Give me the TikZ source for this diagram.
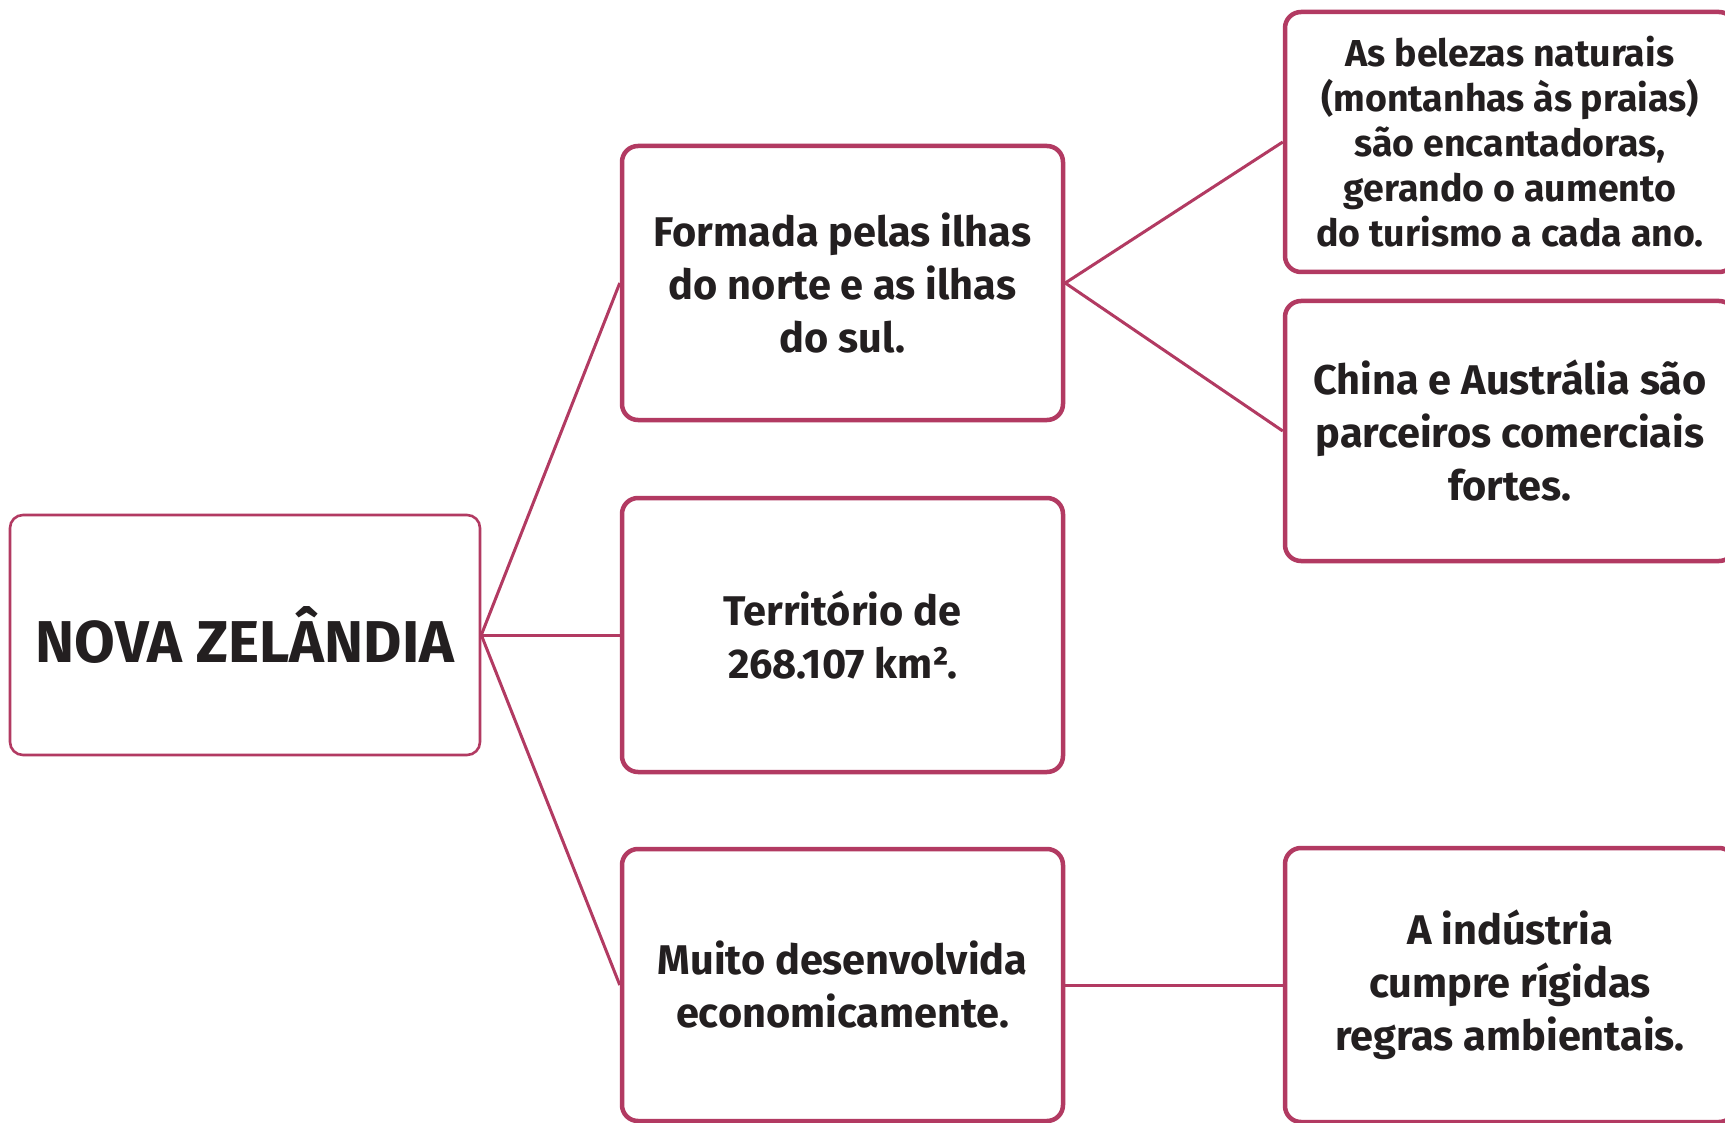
\documentclass[tikz,border=0pt]{standalone}
\usepackage{fontspec}
\setmainfont{Fira Sans}
\definecolor{bord}{RGB}{178,58,98}
\definecolor{ink}{RGB}{35,31,32}
\tikzset{
  box/.style={draw=bord, line width=4.5pt, rounded corners=16pt, rectangle, fill=white,
    inner sep=0pt, align=center, text=ink, font=\bfseries\fontsize{41.5}{53}\selectfont},
  rootbox/.style={box, line width=2.6pt, rounded corners=13pt, font=\bfseries\fontsize{59}{66}\selectfont},
  smallbox/.style={box, font=\bfseries\fontsize{37.5}{45}\selectfont},
  link/.style={draw=bord, line width=3pt}
}
\begin{document}
\begin{tikzpicture}[x=1pt,y=-1pt]
\useasboundingbox[fill=white] (0,0) rectangle (1725,1123);
\node[rootbox, minimum width=470pt, minimum height=240pt] (root) at (245,635) {NOVA ZELÂNDIA};
\node[box, minimum width=441pt, minimum height=274pt] (a) at (842.5,283) {Formada pelas ilhas\\do norte e as ilhas\\do sul.};
\node[box, minimum width=441pt, minimum height=274pt] (b) at (842.5,635) {Território de\\268.107 km².};
\node[box, minimum width=441pt, minimum height=272pt] (c) at (842.5,985) {Muito desenvolvida\\economicamente.};
\node[smallbox, minimum width=450pt, minimum height=260pt] (d) at (1510,142) {As belezas naturais\\(montanhas às praias)\\são encantadoras,\\gerando o aumento\\do turismo a cada ano.};
\node[box, minimum width=450pt, minimum height=260pt] (e) at (1510,431) {China e Austrália são\\parceiros comerciais\\fortes.};
\node[box, minimum width=450pt, minimum height=274pt] (f) at (1510,985) {A indústria\\cumpre rígidas\\regras ambientais.};
\draw[link] (root.east) -- (a.west);
\draw[link] (root.east) -- (b.west);
\draw[link] (root.east) -- (c.west);
\draw[link] (a.east) -- (d.west);
\draw[link] (a.east) -- (e.west);
\draw[link] (c.east) -- (f.west);
\end{tikzpicture}
\end{document}
